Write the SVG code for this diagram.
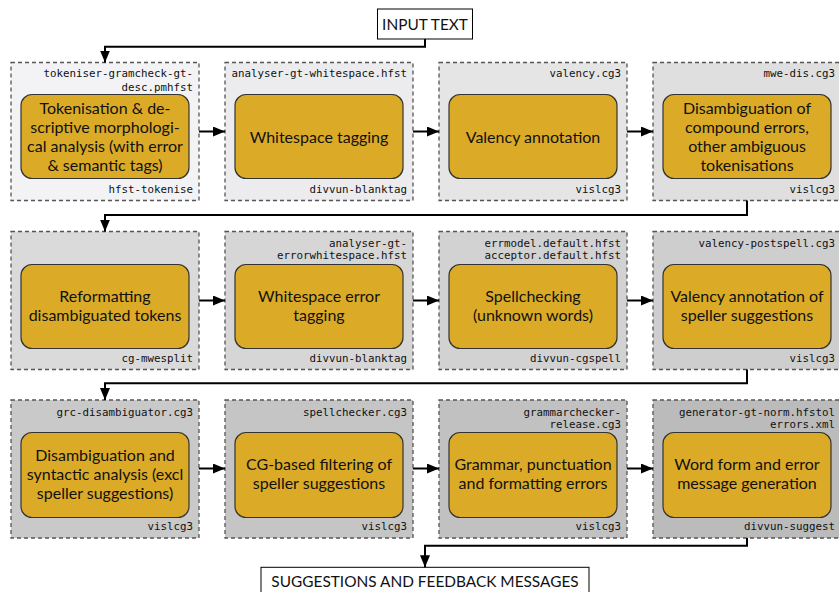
<svg xmlns="http://www.w3.org/2000/svg" width="839" height="592" viewBox="0 0 839 592">
<style>
.ct{stroke:#555;stroke-width:1.3;stroke-dasharray:4 3}
.in{fill:#DBAB28;stroke:#333;stroke-width:1.2}
.t{font-family:Lato,"Open Sans",sans-serif;font-size:16px;fill:#111;text-anchor:middle}
.m{font-family:"DejaVu Sans Mono",monospace;font-size:10.8px;fill:#111;text-anchor:end}
.io{font-family:Lato,"Open Sans",sans-serif;font-size:15.4px;fill:#111;text-anchor:middle}
.c{fill:none;stroke:#000;stroke-width:2}
</style>
<defs>
<marker id="ah" markerUnits="userSpaceOnUse" markerWidth="13" markerHeight="10" refX="12" refY="5" orient="auto">
<path d="M0,0 L12,5 L0,10 Z" fill="#000"/>
</marker>
</defs>
<rect width="839" height="592" fill="#fff"/>

<g id="input">
<rect x="377.5" y="9" width="95" height="30" fill="#fff" stroke="#000" stroke-width="1"/>
<text class="io" x="425" y="29.5">INPUT TEXT</text>
</g>

<g id="n1">
<rect class="ct" x="11" y="62.5" width="188" height="138" fill="#f3f3f5"/>
<rect class="in" x="21" y="94.5" width="168" height="84" rx="11"/>
<text class="t" x="105"><tspan x="105" y="113.8">Tokenisation &amp; de-</tspan><tspan x="105" y="132.8">scriptive morphologi-</tspan><tspan x="105" y="151.8">cal analysis (with error</tspan><tspan x="105" y="170.8">&amp; semantic tags)</tspan></text>
<text class="m" x="193" y="77">tokeniser-gramcheck-gt-</text>
<text class="m" x="193" y="91">desc.pmhfst</text>
<text class="m" x="193" y="193">hfst-tokenise</text>
</g>
<g id="n2">
<rect class="ct" x="225" y="62.5" width="188" height="138" fill="#ececef"/>
<rect class="in" x="235" y="94.5" width="168" height="84" rx="11"/>
<text class="t" x="319" y="142.5">Whitespace tagging</text>
<text class="m" x="407" y="77">analyser-gt-whitespace.hfst</text>
<text class="m" x="407" y="193">divvun-blanktag</text>
</g>
<g id="n3">
<rect class="ct" x="439" y="62.5" width="188" height="138" fill="#e5e5e5"/>
<rect class="in" x="449" y="94.5" width="168" height="84" rx="11"/>
<text class="t" x="533" y="142.5">Valency annotation</text>
<text class="m" x="621" y="77">valency.cg3</text>
<text class="m" x="621" y="193">vislcg3</text>
</g>
<g id="n4">
<rect class="ct" x="653" y="62.5" width="188" height="138" fill="#dfdfdf"/>
<rect class="in" x="663" y="94.5" width="168" height="84" rx="11"/>
<text class="t" x="747"><tspan x="747" y="113.8">Disambiguation of</tspan><tspan x="747" y="132.8">compound errors,</tspan><tspan x="747" y="151.8">other ambiguous</tspan><tspan x="747" y="170.8">tokenisations</tspan></text>
<text class="m" x="835" y="77">mwe-dis.cg3</text>
<text class="m" x="835" y="193">vislcg3</text>
</g>

<g id="n5">
<rect class="ct" x="11" y="231.5" width="188" height="138" fill="#dadada"/>
<rect class="in" x="21" y="264.5" width="168" height="84" rx="11"/>
<text class="t" x="105"><tspan x="105" y="302">Reformatting</tspan><tspan x="105" y="321">disambiguated tokens</tspan></text>
<text class="m" x="193" y="362">cg-mwesplit</text>
</g>
<g id="n6">
<rect class="ct" x="225" y="231.5" width="188" height="138" fill="#d6d6d6"/>
<rect class="in" x="235" y="264.5" width="168" height="84" rx="11"/>
<text class="t" x="319"><tspan x="319" y="302">Whitespace error</tspan><tspan x="319" y="321">tagging</tspan></text>
<text class="m" x="407" y="247">analyser-gt-</text>
<text class="m" x="407" y="259">errorwhitespace.hfst</text>
<text class="m" x="407" y="362">divvun-blanktag</text>
</g>
<g id="n7">
<rect class="ct" x="439" y="231.5" width="188" height="138" fill="#d2d2d2"/>
<rect class="in" x="449" y="264.5" width="168" height="84" rx="11"/>
<text class="t" x="533"><tspan x="533" y="302">Spellchecking</tspan><tspan x="533" y="321">(unknown words)</tspan></text>
<text class="m" x="621" y="247">errmodel.default.hfst</text>
<text class="m" x="621" y="259">acceptor.default.hfst</text>
<text class="m" x="621" y="362">divvun-cgspell</text>
</g>
<g id="n8">
<rect class="ct" x="653" y="231.5" width="188" height="138" fill="#cecece"/>
<rect class="in" x="663" y="264.5" width="168" height="84" rx="11"/>
<text class="t" x="747"><tspan x="747" y="302">Valency annotation of</tspan><tspan x="747" y="321">speller suggestions</tspan></text>
<text class="m" x="835" y="247">valency-postspell.cg3</text>
<text class="m" x="835" y="362">vislcg3</text>
</g>

<g id="n9">
<rect class="ct" x="11" y="400" width="188" height="138" fill="#c9c9c9"/>
<rect class="in" x="21" y="432.5" width="168" height="85" rx="11"/>
<text class="t" x="105"><tspan x="105" y="460.5">Disambiguation and</tspan><tspan x="105" y="479.5">syntactic analysis (excl</tspan><tspan x="105" y="498.5">speller suggestions)</tspan></text>
<text class="m" x="193" y="415.5">grc-disambiguator.cg3</text>
<text class="m" x="193" y="530">vislcg3</text>
</g>
<g id="n10">
<rect class="ct" x="225" y="400" width="188" height="138" fill="#c5c5c5"/>
<rect class="in" x="235" y="432.5" width="168" height="85" rx="11"/>
<text class="t" x="319"><tspan x="319" y="470">CG-based filtering of</tspan><tspan x="319" y="489">speller suggestions</tspan></text>
<text class="m" x="407" y="415.5">spellchecker.cg3</text>
<text class="m" x="407" y="530">vislcg3</text>
</g>
<g id="n11">
<rect class="ct" x="439" y="400" width="188" height="138" fill="#c1c1c1"/>
<rect class="in" x="449" y="432.5" width="168" height="85" rx="11"/>
<text class="t" x="533"><tspan x="533" y="470">Grammar, punctuation</tspan><tspan x="533" y="489">and formatting errors</tspan></text>
<text class="m" x="621" y="415.5">grammarchecker-</text>
<text class="m" x="621" y="427.5">release.cg3</text>
<text class="m" x="621" y="530">vislcg3</text>
</g>
<g id="n12">
<rect class="ct" x="653" y="400" width="188" height="138" fill="#bbbbbb"/>
<rect class="in" x="663" y="432.5" width="168" height="85" rx="11"/>
<text class="t" x="747"><tspan x="747" y="470">Word form and error</tspan><tspan x="747" y="489">message generation</tspan></text>
<text class="m" x="835" y="415.5">generator-gt-norm.hfstol</text>
<text class="m" x="835" y="427.5">errors.xml</text>
<text class="m" x="835" y="530">divvun-suggest</text>
</g>

<g id="output">
<rect x="261" y="567.3" width="328" height="32" fill="#fff" stroke="#000" stroke-width="1"/>
<text class="io" x="425" y="587">SUGGESTIONS AND FEEDBACK MESSAGES</text>
</g>

<g id="connectors">
<path class="c" d="M425,39 V46.7 H105 V62.5" marker-end="url(#ah)"/>
<path class="c" d="M199,131.5 H225" marker-end="url(#ah)"/>
<path class="c" d="M413,131.5 H439" marker-end="url(#ah)"/>
<path class="c" d="M627,131.5 H653" marker-end="url(#ah)"/>
<path class="c" d="M747,200.5 V215 H105 V231.5" marker-end="url(#ah)"/>
<path class="c" d="M199,300.5 H225" marker-end="url(#ah)"/>
<path class="c" d="M413,300.5 H439" marker-end="url(#ah)"/>
<path class="c" d="M627,300.5 H653" marker-end="url(#ah)"/>
<path class="c" d="M747,369.5 V383.3 H105 V400" marker-end="url(#ah)"/>
<path class="c" d="M199,468.5 H225" marker-end="url(#ah)"/>
<path class="c" d="M413,468.5 H439" marker-end="url(#ah)"/>
<path class="c" d="M627,468.5 H653" marker-end="url(#ah)"/>
<path class="c" d="M747,538 V545.7 H425 V567.3" marker-end="url(#ah)"/>
</g>
</svg>
